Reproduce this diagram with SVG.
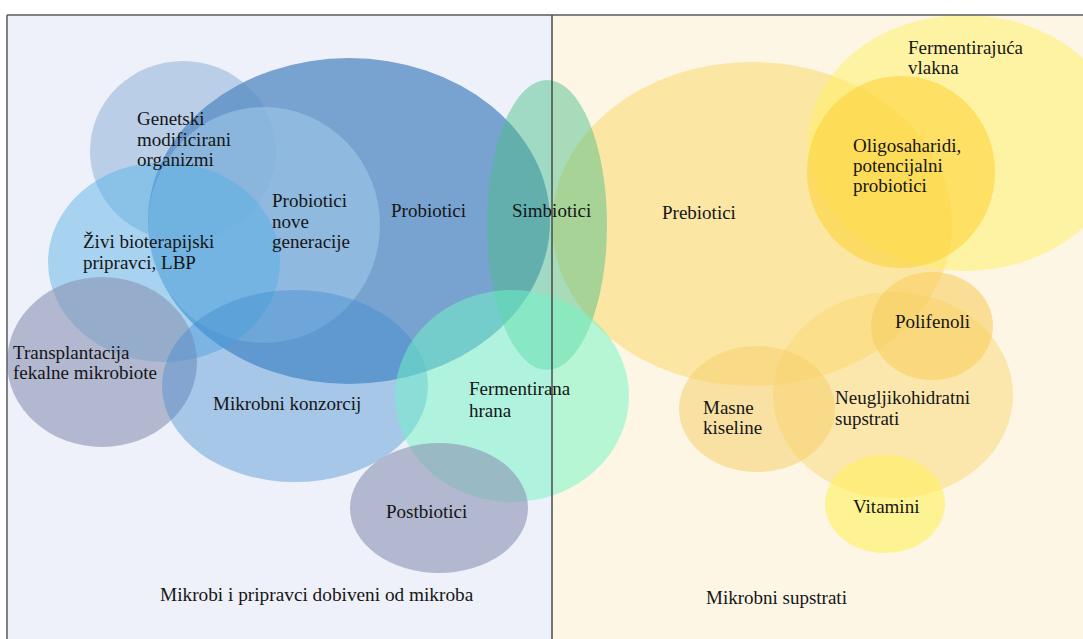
<svg xmlns="http://www.w3.org/2000/svg" width="1083" height="639" viewBox="0 0 1083 639">
<style>
text{font-family:"Liberation Serif","Times New Roman",serif;font-size:19px;fill:#151515}
.frame{stroke:#5a5a5a;stroke-width:1.5;fill:none}
</style>
<rect x="0" y="0" width="1083" height="639" fill="#ffffff"/>
<rect x="7" y="15" width="545" height="624" fill="#eef1f9"/>
<rect x="552" y="15" width="531" height="624" fill="#fdf6e5"/>

<g id="genetski">
<ellipse cx="183" cy="151" rx="93" ry="90" fill="#8fb3d9" fill-opacity="0.55"/>
</g>
<g id="probiotici">
<ellipse cx="349" cy="221" rx="201" ry="163" fill="#5a8fc5" fill-opacity="0.8"/>
</g>
<g id="nove-generacije">
<ellipse cx="264" cy="225" rx="116" ry="118" fill="#a8d0ee" fill-opacity="0.5"/>
</g>
<g id="zivi">
<ellipse cx="164" cy="262" rx="116" ry="100" fill="#4fb0e6" fill-opacity="0.45"/>
</g>
<g id="transplantacija">
<ellipse cx="102" cy="362" rx="95" ry="85" fill="#8a92b3" fill-opacity="0.6"/>
</g>
<g id="konzorcij">
<ellipse cx="295" cy="386" rx="133" ry="96" fill="#3d8ad0" fill-opacity="0.4"/>
</g>
<g id="prebiotici">
<ellipse cx="752" cy="224" rx="200" ry="162" fill="#fcd870" fill-opacity="0.55"/>
</g>
<g id="simbiotici">
<ellipse cx="547" cy="225" rx="60" ry="145" fill="#4cbf8a" fill-opacity="0.48"/>
</g>
<g id="fermentirana">
<ellipse cx="512" cy="396" rx="117" ry="106" fill="#6ff5c5" fill-opacity="0.5"/>
</g>
<g id="postbiotici">
<ellipse cx="439" cy="508" rx="89" ry="65" fill="#8a92b3" fill-opacity="0.6"/>
</g>
<g id="vlakna">
<ellipse cx="965" cy="143" rx="157" ry="128" fill="#fff060" fill-opacity="0.5"/>
</g>
<g id="oligosaharidi">
<ellipse cx="901" cy="172" rx="94" ry="96" fill="#fcd43a" fill-opacity="0.6"/>
</g>
<g id="neugljikohidratni">
<ellipse cx="893" cy="395" rx="120" ry="103" fill="#f9d772" fill-opacity="0.5"/>
</g>
<g id="polifenoli">
<ellipse cx="932" cy="326" rx="61" ry="54" fill="#f8cf60" fill-opacity="0.6"/>
</g>
<g id="masne">
<ellipse cx="757" cy="409" rx="78" ry="63" fill="#f5cf6e" fill-opacity="0.55"/>
</g>
<g id="vitamini">
<ellipse cx="885" cy="504" rx="60" ry="49" fill="#fff060" fill-opacity="0.62"/>
</g>

<line class="frame" x1="7" y1="15" x2="1083" y2="15"/>
<line class="frame" x1="7" y1="15" x2="7" y2="639"/>
<line class="frame" x1="552" y1="15" x2="552" y2="639" style="stroke:#4a4a4a"/>

<g id="labels">
<text x="137" y="125">Genetski</text>
<text x="137" y="146">modificirani</text>
<text x="137" y="166">organizmi</text>
<text x="272" y="207">Probiotici</text>
<text x="272" y="228">nove</text>
<text x="272" y="248">generacije</text>
<text x="391" y="217">Probiotici</text>
<text x="83" y="248">Živi bioterapijski</text>
<text x="83" y="269">pripravci, LBP</text>
<text x="512" y="217">Simbiotici</text>
<text x="13" y="359">Transplantacija</text>
<text x="13" y="379">fekalne mikrobiote</text>
<text x="213" y="410">Mikrobni konzorcij</text>
<text x="469" y="395">Fermentirana</text>
<text x="469" y="417">hrana</text>
<text x="386" y="518">Postbiotici</text>
<text x="160" y="601" style="font-size:19.3px">Mikrobi i pripravci dobiveni od mikroba</text>
<text x="908" y="54">Fermentirajuća</text>
<text x="908" y="74">vlakna</text>
<text x="853" y="152">Oligosaharidi,</text>
<text x="853" y="172">potencijalni</text>
<text x="853" y="192">probiotici</text>
<text x="662" y="219">Prebiotici</text>
<text x="895" y="328">Polifenoli</text>
<text x="835" y="404">Neugljikohidratni</text>
<text x="835" y="425">supstrati</text>
<text x="703" y="414">Masne</text>
<text x="703" y="434">kiseline</text>
<text x="853" y="513">Vitamini</text>
<text x="706" y="604">Mikrobni supstrati</text>
</g>
</svg>
